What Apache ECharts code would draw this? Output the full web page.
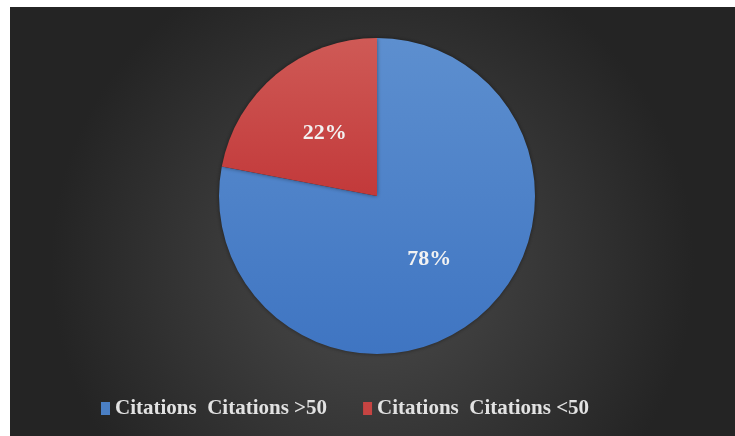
<!DOCTYPE html>
<html>
<head>
<meta charset="utf-8">
<script src="https://cdn.jsdelivr.net/npm/echarts@6/dist/echarts.min.js"></script>
<style>
html,body{margin:0;padding:0;background:#ffffff;width:735px;height:436px;overflow:hidden;}
#chart{position:absolute;left:10px;top:7px;width:725px;height:429px;}
</style>
</head>
<body>
<div id="chart"></div>
<script>
var categories = ['Citations  Citations >50', 'Citations  Citations <50'];
var values = [78, 22];
var colors = ['#4a7fc4', '#c64442'];

var chart = echarts.init(document.getElementById('chart'), null, {renderer: 'canvas'});
var data = categories.map(function (c, i) {
  var top = i === 0 ? '#5d8fcf' : '#cf5a56';
  var bot = i === 0 ? '#3f75c2' : '#c2393a';
  return {
    name: c,
    value: values[i],
    itemStyle: {
      color: new echarts.graphic.LinearGradient(0, 0, 0, 1, [
        {offset: 0, color: top}, {offset: 1, color: bot}
      ])
    }
  };
});
chart.setOption({
  backgroundColor: new echarts.graphic.RadialGradient(0.5, 0.6, 0.75, [
    {offset: 0, color: '#4c4c4c'},
    {offset: 1, color: '#242424'}
  ]),
  animation: false,
  color: colors,
  legend: {
    left: 86,
    top: 386,
    icon: 'rect',
    itemWidth: 9,
    itemHeight: 13,
    itemGap: 36,
    textStyle: {
      color: '#e2e2e2',
      fontFamily: '"Liberation Serif", "Times New Roman", serif',
      fontWeight: 'bold',
      fontSize: 21
    },
    data: categories.map(function (c, i) {
      return {name: c, itemStyle: {color: colors[i]}};
    })
  },
  series: [{
    type: 'pie',
    center: [367, 189],
    radius: [0, 158],
    startAngle: 90,
    clockwise: true,
    data: data,
    itemStyle: {
      borderWidth: 0,
      shadowBlur: 4,
      shadowColor: 'rgba(0,0,0,0.45)'
    },
    label: {
      show: true,
      position: 'inside',
      formatter: '{d}%',
      color: '#f2f2f2',
      fontFamily: '"Liberation Serif", "Times New Roman", serif',
      fontWeight: 'bold',
      fontSize: 22
    },
    labelLine: {show: false},
    emphasis: {disabled: true}
  }]
});
</script>
</body>
</html>
